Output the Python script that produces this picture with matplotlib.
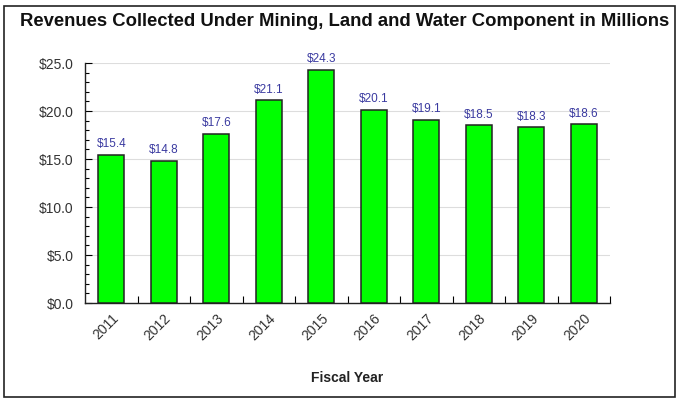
import matplotlib
matplotlib.use("Agg")
import matplotlib.pyplot as plt
from matplotlib.patches import Rectangle
from matplotlib.ticker import MultipleLocator, FixedLocator

years = ["2011", "2012", "2013", "2014", "2015", "2016", "2017", "2018", "2019", "2020"]
revenues = [15.4, 14.8, 17.6, 21.1, 24.3, 20.1, 19.1, 18.5, 18.3, 18.6]
title = "Revenues Collected Under Mining, Land and Water Component in Millions"
xlabel = "Fiscal Year"

plt.rcParams['font.family'] = ['Liberation Sans', 'DejaVu Sans']

W, H = 678, 400
fig = plt.figure(figsize=(W / 100, H / 100), dpi=100)
fig.patches.append(Rectangle((4 / W, 3 / H), 671 / W, 391 / H, transform=fig.transFigure,
                             fill=False, edgecolor='#222222', linewidth=1.2))

left, right, top, bottom = 85, 610, 63, 303
ax = fig.add_axes([left / W, 1 - bottom / H, (right - left) / W, (bottom - top) / H])

x = list(range(len(years)))
ax.bar(x, revenues, width=0.5, color='#00ff00', edgecolor='#222222', linewidth=1.1, zorder=3)
for xi, v in zip(x, revenues):
    ax.text(xi, v + 0.5, f"${v:.1f}", ha='center', va='bottom', fontsize=8.5, color='#3a3aa0', zorder=4)

ax.set_xlim(-0.5, len(years) - 0.5)
ax.set_ylim(0, 25)
ax.set_yticks([0, 5, 10, 15, 20, 25])
ax.set_yticklabels([f"${t:.1f}" for t in [0, 5, 10, 15, 20, 25]], fontsize=10, color='#333333')
ax.yaxis.set_minor_locator(MultipleLocator(1))
ax.tick_params(axis='y', which='major', direction='in', length=5, width=0.8, pad=8)
ax.tick_params(axis='y', which='minor', direction='in', length=3, width=0.8)

ax.set_xticks(x)
ax.set_xticklabels(years, rotation=45, ha='right', rotation_mode='anchor', fontsize=10, color='#333333')
ax.tick_params(axis='x', which='major', length=0, pad=6)
ax.xaxis.set_minor_locator(FixedLocator([i + 0.5 for i in x]))
ax.tick_params(axis='x', which='minor', direction='in', length=5, width=0.8)

ax.grid(axis='y', which='major', color='#dddddd', linewidth=0.8, zorder=0)
for s in ['top', 'right']:
    ax.spines[s].set_visible(False)
for s in ['left', 'bottom']:
    ax.spines[s].set_color('#222222')
    ax.spines[s].set_linewidth(1.0)

fig.text(345 / W, 1 - 22 / H, title, ha='center', va='center', fontsize=13.3, fontweight='bold', color='#111111')
fig.text(347 / W, 1 - 378 / H, xlabel, ha='center', va='center', fontsize=10, fontweight='bold', color='#222222')

fig.savefig("out.png", dpi=100)
